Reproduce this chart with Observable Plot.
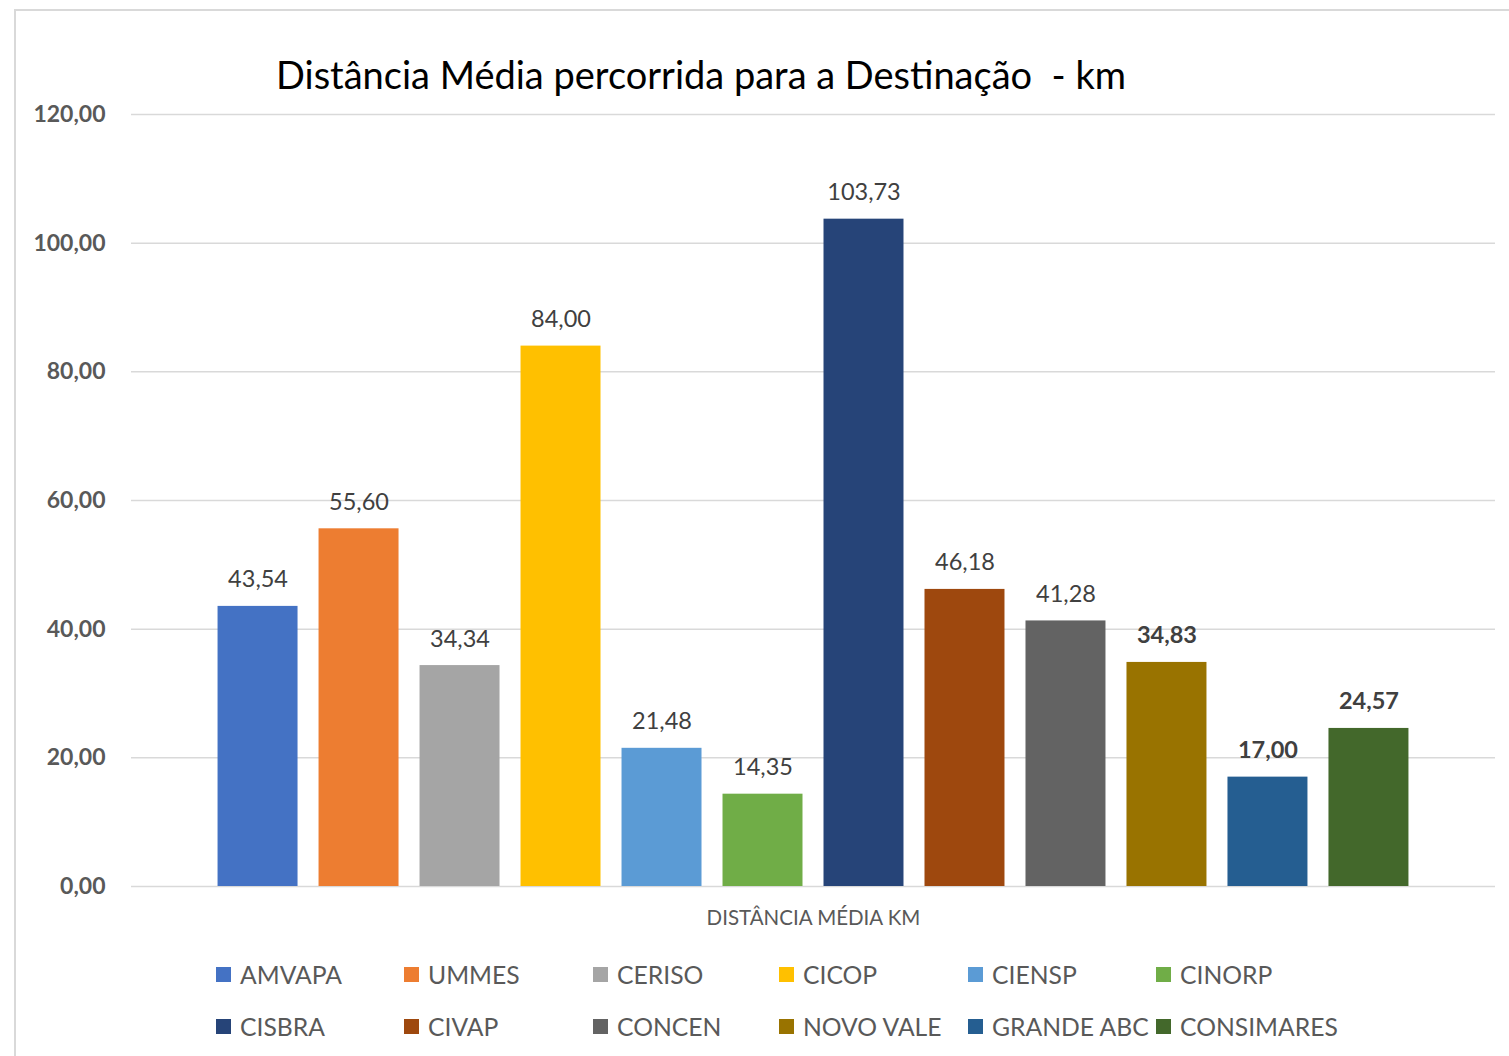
<!DOCTYPE html>
<html>
<head>
<meta charset="utf-8">
<script src="https://cdn.jsdelivr.net/npm/d3@7"></script>
<script src="https://cdn.jsdelivr.net/npm/@observablehq/plot@0.6"></script>
<style>
  html, body { margin: 0; padding: 0; background: #fff; }
  #wrap { position: relative; width: 1509px; height: 1056px; overflow: hidden; font-family: Lato, "Open Sans", sans-serif; }
  #frame { position: absolute; left: 14px; top: 9px; width: 1600px; height: 1200px; border: 2px solid #d9d9d9; box-sizing: border-box; }
  #chart { position: absolute; left: 0; top: 0; }
  #title { position: absolute; left: 0; width: 1402px; top: 51px; text-align: center; font-size: 38px; color: #000; white-space: pre; }
  .leg { position: absolute; display: flex; align-items: center; font-size: 24.7px; color: #595959; white-space: nowrap; }
  .sw { width: 15px; height: 15px; margin-right: 9px; }
</style>
</head>
<body>
<div id="wrap">
  <div id="frame"></div>
  <div id="chart"></div>
  <div id="title"></div>
  <div id="legend"></div>
</div>
<script>
const chartTitle = "Distância Média percorrida para a Destinação  - km";
const axisTitle = "DISTÂNCIA MÉDIA KM";
const names = ["AMVAPA","UMMES","CERISO","CICOP","CIENSP","CINORP","CISBRA","CIVAP","CONCEN","NOVO VALE","GRANDE ABC","CONSIMARES"];
const values = [43.54, 55.60, 34.34, 84.00, 21.48, 14.35, 103.73, 46.18, 41.28, 34.83, 17.00, 24.57];
const colors = ["#4472C4","#ED7D31","#A5A5A5","#FFC000","#5B9BD5","#70AD47","#264478","#9E480E","#636363","#997300","#255E91","#43682B"];
const boldLabels = ["NOVO VALE","GRANDE ABC","CONSIMARES"];
const yTicks = [0, 20, 40, 60, 80, 100, 120];
const legendCols = [216, 404, 593, 779, 968, 1156];
const legendRows = [974, 1026];

const data = names.map((n, i) => ({name: n, value: values[i]}));
const fmt = v => v.toFixed(2).replace(".", ",");

const plot = Plot.plot({
  width: 1509,
  height: 1056,
  marginLeft: 131,
  marginRight: 14,
  marginTop: 114,
  marginBottom: 170,
  style: {fontFamily: "Lato, 'Open Sans', sans-serif", background: "transparent"},
  x: {domain: names, paddingInner: 0.208, paddingOuter: 0.857, round: false, axis: null},
  y: {domain: [0, 120], ticks: yTicks},
  color: {domain: names, range: colors},
  marks: [
    Plot.gridY(yTicks, {stroke: "#d9d9d9", strokeOpacity: 1, strokeWidth: 1.5}),
    Plot.axisY(yTicks, {tickSize: 0, tickPadding: 26, tickFormat: fmt, fontSize: 23, fontWeight: "bold", fill: "#595959", label: null}),
    Plot.barY(data, {x: "name", y: "value", fill: "name"}),
    Plot.text(data.filter(d => !boldLabels.includes(d.name)), {x: "name", y: "value", text: d => fmt(d.value), lineAnchor: "bottom", dy: -19, fontSize: 23.5, fill: "#404040"}),
    Plot.text(data.filter(d => boldLabels.includes(d.name)), {x: "name", y: "value", text: d => fmt(d.value), lineAnchor: "bottom", dy: -19, fontSize: 23.5, fontWeight: "bold", fill: "#404040"}),
    Plot.text([axisTitle], {frameAnchor: "bottom", dy: 38, fontSize: 20.5, fill: "#595959"})
  ]
});
document.getElementById("chart").appendChild(plot);
document.getElementById("title").textContent = chartTitle;

const leg = document.getElementById("legend");
names.forEach((n, i) => {
  const row = Math.floor(i / 6), col = i % 6;
  const d = document.createElement("div");
  d.className = "leg";
  d.style.left = legendCols[col] + "px";
  d.style.top = (legendRows[row] - 16) + "px";
  d.style.height = "32px";
  const s = document.createElement("div");
  s.className = "sw";
  s.style.background = colors[i];
  const t = document.createElement("span");
  t.textContent = n;
  d.appendChild(s); d.appendChild(t);
  leg.appendChild(d);
});
</script>
</body>
</html>
